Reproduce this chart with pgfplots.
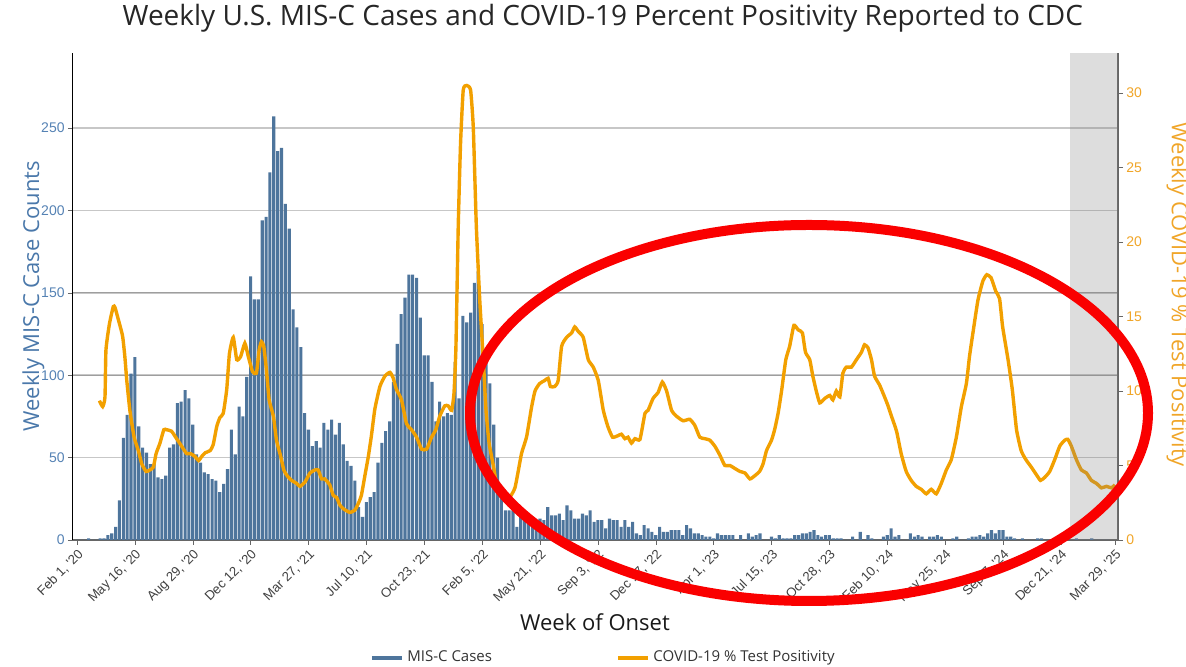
\documentclass[border=0pt]{standalone}
\usepackage{pgfplots}
\pgfplotsset{compat=1.18}
\usepackage{fontspec}
\setmainfont{Open Sans}
\newfontfamily\arial{Liberation Sans}
\definecolor{barc}{RGB}{78,117,156}
\definecolor{orc}{RGB}{242,160,0}
\definecolor{orlab}{RGB}{240,165,40}
\definecolor{bluet}{RGB}{74,120,170}
\definecolor{bluetick}{RGB}{85,130,180}
\definecolor{redc}{RGB}{250,0,0}
\begin{document}
\begin{tikzpicture}
\useasboundingbox (-36.5pt,-63.5pt) rectangle (556.5pt,270pt);
\begin{axis}[
  at={(0,0)}, anchor=south west, scale only axis,
  width=522.5pt, height=243.65pt,
  xmin=-1.04, xmax=269.8, ymin=0, ymax=295.7,
  axis y line*=left, axis x line*=bottom,
  tick align=outside, major tick length=2.5pt,
  /pgf/number format/assume math mode=true,
  xtick={0,15,30,45,60,75,90,105,120,135,150,165,180,195,210,225,240,255,269},
  xticklabels={{Feb 1, '20},{May 16, '20},{Aug 29, '20},{Dec 12, '20},{Mar 27, '21},{Jul 10, '21},{Oct 23, '21},{Feb 5, '22},{May 21, '22},{Sep 3, '22},{Dec 17, '22},{Apr 1, '23},{Jul 15, '23},{Oct 28, '23},{Feb 10, '24},{May 25, '24},{Sep 7, '24},{Dec 21, '24},{Mar 29, '25}},
  x tick label style={rotate=45, anchor=north east, font=\arial\fontsize{6.6}{7}\selectfont, text=black!75, inner sep=1pt},
  ytick={0,50,100,150,200,250},
  y tick label style={font=\arial\fontsize{7}{8}\selectfont, text=bluetick, inner sep=1.5pt},
  x axis line style={black!60, line width=0.6pt},
  y axis line style={black, line width=0.5pt},
  xtick style={black!60}, ytick style={black!60},
  ymajorgrids, grid style={black!22, line width=0.7pt},
  xlabel={Week of Onset},
  xlabel style={at={(axis description cs:0.4995,-0.168)}, anchor=center, font=\fontsize{11}{13}\selectfont, text=black!90},
  ylabel={Weekly MIS-C Case Counts},
  ylabel style={at={(axis description cs:-0.038,0.5)}, anchor=center, font=\fontsize{11}{13}\selectfont, text=bluet},
  title={Weekly U.S. MIS-C Cases and COVID-19 Percent Positivity Reported to CDC},
  title style={at={(axis description cs:0.507,1.046)}, anchor=center, font=\fontsize{14}{16}\selectfont, text=black!85},
]
\draw[black!38, line width=0.5pt] (axis cs:-1.04,100) -- (axis cs:269.8,100);
\draw[black!38, line width=0.5pt] (axis cs:-1.04,150) -- (axis cs:269.8,150);
\addplot[ybar, bar width=0.8, fill=barc, draw=none] coordinates {
(0,0)(1,0)(2,0)(3,1)(4,0)(5,0)(6,1)(7,1)(8,3)(9,4)(10,8)(11,24)(12,62)(13,76)(14,101)(15,111)(16,69)(17,56)(18,53)(19,46)
(20,46)(21,38)(22,37)(23,39)(24,56)(25,58)(26,83)(27,84)(28,91)(29,86)(30,70)(31,52)(32,47)(33,41)(34,40)(35,37)(36,36)(37,29)(38,34)(39,43)
(40,67)(41,52)(42,81)(43,75)(44,99)(45,160)(46,146)(47,146)(48,194)(49,196)(50,223)(51,257)(52,236)(53,238)(54,204)(55,189)(56,140)(57,129)(58,117)(59,77)
(60,67)(61,57)(62,60)(63,56)(64,71)(65,67)(66,73)(67,64)(68,71)(69,58)(70,48)(71,45)(72,36)(73,20)(74,14)(75,23)(76,26)(77,29)(78,47)(79,59)
(80,66)(81,72)(82,96)(83,119)(84,137)(85,147)(86,161)(87,161)(88,159)(89,135)(90,112)(91,112)(92,96)(93,72)(94,84)(95,75)(96,77)(97,76)(98,108)(99,86)
(100,136)(101,132)(102,138)(103,156)(104,163)(105,131)(106,112)(107,95)(108,70)(109,50)(110,32)(111,18)(112,18)(113,18)(114,8)(115,15)(116,12)(117,10)(118,13)(119,12)
(120,13)(121,12)(122,20)(123,15)(124,15)(125,16)(126,12)(127,21)(128,18)(129,13)(130,13)(131,16)(132,15)(133,18)(134,11)(135,12)(136,12)(137,7)(138,13)(139,12)
(140,12)(141,8)(142,12)(143,8)(144,11)(145,4)(146,3)(147,9)(148,7)(149,5)(150,3)(151,8)(152,5)(153,5)(154,6)(155,6)(156,6)(157,3)(158,9)(159,7)
(160,4)(161,4)(162,3)(163,2)(164,2)(165,1)(166,4)(167,3)(168,3)(169,3)(170,3)(171,0)(172,3)(173,0)(174,4)(175,2)(176,3)(177,4)(178,0)(179,0)
(180,2)(181,1)(182,3)(183,1)(184,1)(185,1)(186,3)(187,3)(188,4)(189,4)(190,5)(191,6)(192,3)(193,2)(194,3)(195,3)(196,1)(197,1)(198,1)(199,0)
(200,0)(201,2)(202,0)(203,5)(204,0)(205,3)(206,1)(207,0)(208,0)(209,2)(210,3)(211,7)(212,2)(213,3)(214,0)(215,0)(216,4)(217,2)(218,3)(219,2)
(220,0)(221,2)(222,2)(223,3)(224,2)(225,0)(226,0)(227,1)(228,2)(229,0)(230,0)(231,1)(232,2)(233,2)(234,3)(235,2)(236,4)(237,6)(238,4)(239,6)
(240,6)(241,2)(242,2)(243,1)(244,0)(245,1)(246,0)(247,0)(248,0)(249,1)(250,1)(251,0)(252,0)(253,0)(254,2)(255,0)(256,0)(257,0)(258,0)(259,1)
(260,0)(261,0)(262,0)(263,1)(264,0)(265,0)(266,0)(267,0)
};
\end{axis}
\begin{axis}[
  at={(0,0)}, anchor=south west, scale only axis,
  width=522.5pt, height=243.65pt,
  xmin=-1.04, xmax=269.8, ymin=0, ymax=32.7,
  axis y line*=right, axis x line=none,
  tick align=outside, major tick length=2.5pt,
  /pgf/number format/assume math mode=true,
  ytick={0,5,10,15,20,25,30},
  y tick label style={font=\arial\fontsize{7}{8}\selectfont, text=orlab, inner sep=1.5pt},
  y axis line style={black!60, line width=0.6pt}, ytick style={black!60},
  ylabel={Weekly COVID-19 \% Test Positivity},
  ylabel style={at={(axis description cs:1.057,0.503)}, anchor=center, rotate=180, font=\fontsize{11}{13}\selectfont, text=orlab},
  legend style={at={(axis description cs:0.284,-0.242)}, anchor=west, draw=none, fill=none, inner sep=0pt,
    font=\fontsize{7.5}{9}\selectfont, text=black!80, legend columns=2,
    /tikz/every even column/.append style={column sep=60pt}},
  legend cell align=left,
  legend image code/.code={\draw[#1] (0pt,0pt) -- (15pt,0pt);},
]
\addlegendimage{barc, line width=1.6pt}
\addlegendentry{MIS-C Cases}
\addplot[orc, line width=1.7pt, smooth, tension=0.3] coordinates {
(5.8,9.35)(6.65,8.95)(7.25,9.6)(7.5,12.75)(8.4,14.5)(9.4,15.66)(9.85,15.6)(10.7,14.8)(11.8,13.7)(12.4,12.3)(12.9,10.7)(13.7,8.7)(14.8,6.9)(15.9,6.0)(16.8,5.1)(17.9,4.6)(18.9,4.7)(19.8,4.9)
(20.5,5.8)(21.5,6.5)(22.5,7.4)(23.2,7.4)(24.5,7.3)(25.8,6.8)(27.1,6.3)(28.4,5.8)(29.4,5.8)(30.6,5.6)(31.5,5.33)(32.3,5.6)(33.2,5.85)(34.5,6.0)(35.3,6.4)(36.2,7.6)(37.0,8.2)(37.9,8.5)(38.8,10.1)(39.5,12.5)
(40.5,13.6)(41.4,12.1)(42.4,12.3)(43.5,13.2)(44.4,12.3)(45.5,11.3)(46.5,11.2)(47.2,12.75)(47.8,13.3)(48.4,13.0)(49.1,11.4)(49.8,9.4)(50.9,8.3)(51.7,6.7)(52.8,5.6)(53.6,4.7)(54.5,4.3)(55.6,4.0)(56.9,3.8)(57.8,3.6)
(59.1,3.9)(60.4,4.5)(61.7,4.7)(62.5,4.7)(63.4,4.1)(64.2,4.1)(65.5,3.7)(66.4,3.0)(67.3,2.85)(68.1,2.35)(69.0,2.1)(70.7,1.85)(72.0,2.0)(72.9,2.45)(73.7,3.0)(74.6,4.3)(75.5,5.6)(76.3,7.0)(77.2,8.8)(78.5,10.3)
(79.8,11.0)(81.1,11.25)(81.9,10.9)(82.8,10.1)(84.1,9.4)(85.4,7.8)(86.7,7.4)(88.0,6.9)(89.3,6.1)(90.6,6.1)(91.9,6.9)(93.0,7.4)(94.0,8.3)(95.3,9.0)(96.2,9.0)(97.1,8.7)(97.7,9.85)(98.2,12.9)(98.8,21.0)(99.4,26.6)
(100.1,30.2)(101.0,30.5)(102.0,30.2)(102.7,27.7)(103.5,21.0)(104.4,16.0)(105.3,12.1)(106.0,8.7)(106.8,6.5)(107.9,5.0)(108.7,3.8)(109.6,3.1)(110.5,2.8)(111.7,2.7)(113.5,3.5)(115.2,5.8)(116.5,6.9)(117.8,8.9)(118.7,10.0)(119.9,10.5)
(121.2,10.7)(122.1,10.85)(122.7,10.3)(123.8,10.3)(124.7,10.7)(125.6,13.0)(126.9,13.6)(128.2,13.9)(129.0,14.3)(129.9,14.0)(131.2,13.6)(132.5,12.1)(133.8,11.6)(135.1,10.7)(136.4,8.7)(137.6,7.6)(138.8,6.9)(140.2,7.0)(141.1,7.1)(142.0,6.8)
(142.8,6.9)(143.7,6.5)(144.6,6.8)(145.9,6.75)(147.2,8.5)(148.0,8.7)(149.3,9.5)(150.6,9.9)(151.7,10.6)(152.8,10.0)(154.1,8.7)(155.4,8.3)(157.1,8.0)(158.8,8.1)(160.1,7.7)(161.4,6.9)(162.7,6.8)(164.0,6.7)(165.3,6.3)(166.6,5.7)
(167.9,5.0)(169.2,5.0)(170.5,4.8)(171.8,4.6)(173.1,4.5)(174.4,4.1)(175.6,4.3)(176.9,4.6)(177.8,5.1)(178.7,6.0)(180.0,6.7)(180.8,7.4)(181.7,8.5)(182.6,10.0)(183.7,12.1)(184.7,13.0)(185.8,14.4)(186.9,14.1)(188.0,13.9)(188.8,12.6)
(189.9,12.1)(190.7,11.0)(191.6,10.0)(192.5,9.2)(193.8,9.5)(195.1,9.7)(195.9,9.4)(196.8,10.0)(197.7,9.6)(198.5,11.2)(199.4,11.6)(200.7,11.6)(202.0,12.1)(203.3,12.6)(204.1,13.1)(205.0,12.9)(205.9,12.1)(206.7,11.0)(208.0,10.4)(209.3,9.6)
(210.2,9.0)(211.1,8.3)(212.4,7.3)(213.6,5.8)(214.9,4.6)(216.2,4.0)(217.5,3.6)(218.8,3.4)(220.1,3.1)(221.4,3.4)(222.7,3.1)(224.0,3.8)(225.3,4.7)(226.6,5.4)(227.9,6.9)(229.2,8.95)(230.5,10.5)(231.3,12.3)(232.2,13.9)(233.5,16.1)
(234.8,17.4)(235.8,17.8)(236.9,17.6)(238.1,16.7)(239.1,16.2)(239.9,14.3)(241.3,12.1)(242.4,10.1)(243.5,7.4)(244.7,6.0)(245.9,5.4)(247.3,4.9)(248.6,4.4)(249.7,4.0)(250.8,4.2)(252.1,4.6)(253.4,5.4)(254.7,6.3)(256.0,6.7)(256.8,6.75)
(257.7,6.3)(259.0,5.4)(260.3,4.7)(261.6,4.5)(262.9,4.0)(264.2,3.8)(265.5,3.5)(266.8,3.6)(268.1,3.5)(269.0,3.7)
};
\addlegendentry{COVID-19 \% Test Positivity}
\fill[black!50, fill opacity=0.27] (axis cs:257.3,0) rectangle (axis cs:269.8,32.7);
\end{axis}
\draw[redc, line width=5pt] (368pt,63.5pt) ellipse [x radius=169.5pt, y radius=94pt];
\end{tikzpicture}
\end{document}
